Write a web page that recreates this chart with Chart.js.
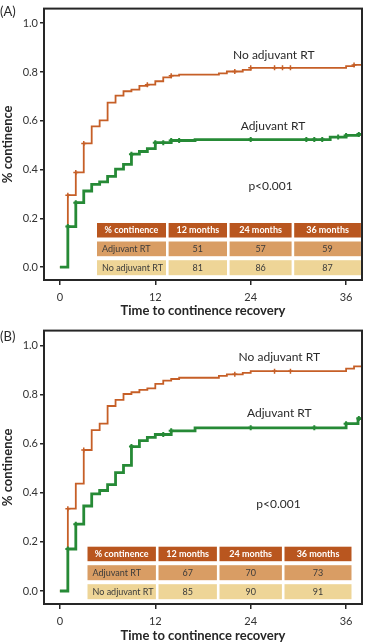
<!DOCTYPE html>
<html>
<head>
<meta charset="utf-8">
<script src="https://cdn.jsdelivr.net/npm/chart.js@4.4.1/dist/chart.umd.min.js"></script>
<style>
  html, body { margin: 0; padding: 0; background: #fff; }
  .panel { position: relative; width: 368px; height: 322px; }
</style>
</head>
<body>
<div class="panel"><canvas id="chartA"></canvas></div>
<div class="panel"><canvas id="chartB"></canvas></div>
<script>
var xTicks = [0, 12, 24, 36];
var yTicks = [0, 0.2, 0.4, 0.6, 0.8, 1.0];

var tableHead = ['% continence', '12 months', '24 months', '36 months'];
var tableRowNames = ['Adjuvant RT', 'No adjuvant RT'];

// panel A - step curves (months, proportion continent)
var monthsNoRtA = [0, 1, 2, 3, 4, 5, 6, 7, 8, 9, 10, 11, 12, 13, 14, 15, 20, 21, 23, 24, 36, 37, 38];
var contNoRtA   = [0, .295, .388, .507, .577, .602, .674, .703, .721, .728, .743, .748, .762, .778, .785, .789, .794, .802, .809, .817, .824, .829, .829];
var censMonthsNoRtA = [1, 2, 3, 11, 14, 22, 24, 27, 28, 29, 37];
var censContNoRtA   = [.295, .388, .507, .748, .785, .802, .817, .817, .817, .817, .829];

var monthsRtA = [0, 1, 2, 3, 4, 5, 6, 7, 8, 9, 10, 11, 12, 14, 17, 34, 36, 37.5, 38];
var contRtA   = [0, .166, .264, .312, .339, .349, .372, .402, .421, .463, .474, .486, .510, .519, .523, .533, .540, .544, .544];
var censMonthsRtA = [1, 2, 9, 12, 13, 14, 15, 24, 31, 32, 33, 35, 36, 37.6];
var censContRtA   = [.166, .264, .463, .510, .510, .519, .519, .523, .523, .523, .523, .533, .540, .544];

var tableRtA   = ['51', '57', '59'];
var tableNoRtA = ['81', '86', '87'];

// panel B
var monthsNoRtB = [0, 1, 2, 3, 4, 5, 6, 7, 8, 9, 10, 11, 12, 13, 14, 15, 20, 21, 23, 24, 36, 37, 38];
var contNoRtB   = [0, .335, .437, .574, .655, .681, .753, .778, .802, .809, .819, .825, .843, .856, .863, .868, .876, .882, .888, .895, .905, .914, .914];
var censMonthsNoRtB = [1, 3, 22, 27, 29];
var censContNoRtB   = [.335, .574, .882, .895, .895];

var monthsRtB = [0, 1, 2, 3, 4, 5, 6, 7, 8, 9, 10, 11, 12, 14, 17, 36, 37.5, 38];
var contRtB   = [0, .171, .272, .346, .395, .409, .433, .482, .511, .588, .612, .625, .637, .652, .664, .681, .702, .702];
var censMonthsRtB = [1, 2, 9, 13, 14, 24, 32, 36, 37.6];
var censContRtB   = [.171, .272, .588, .637, .652, .664, .664, .681, .702];

var tableRtB   = ['67', '70', '73'];
var tableNoRtB = ['85', '90', '91'];

var ORANGE = '#c65f27';
var GREEN = '#268a36';
var FONT = 'Lato, "Open Sans", sans-serif';

function pts(xs, ys) {
  return xs.map(function (x, i) { return { x: x, y: ys[i] }; });
}

var decor = {
  id: 'decor',
  beforeDatasetsDraw: function (chart) {
    var c = chart.options.plugins.decor;
    var ctx = chart.ctx;
    var t = c.table;
    var fills = ['#b9561f', '#d99d64', '#eed597'];
    var rows = [tableHead, [tableRowNames[0]].concat(c.rt), [tableRowNames[1]].concat(c.noRt)];
    ctx.save();
    var y = t.top;
    for (var r = 0; r < 3; r++) {
      var x = t.left;
      for (var k = 0; k < 4; k++) {
        ctx.fillStyle = fills[r];
        ctx.fillRect(x, y, t.cols[k], t.rows[r]);
        ctx.fillStyle = r === 0 ? '#ffffff' : '#3a3a3a';
        ctx.font = (r === 0 ? 'bold ' : '') + '9px ' + FONT;
        ctx.textBaseline = 'middle';
        if (r > 0 && k === 0) {
          ctx.textAlign = 'left';
          ctx.fillText(rows[r][k], x + 5, y + t.rows[r] / 2);
        } else {
          ctx.textAlign = 'center';
          ctx.fillText(rows[r][k], x + t.cols[k] / 2, y + t.rows[r] / 2);
        }
        x += t.cols[k] + t.gap;
      }
      y += t.rows[r] + t.vgap;
    }
    // curve labels and p value, placed in data units
    var sx = chart.scales.x, sy = chart.scales.y;
    ctx.fillStyle = '#2a2a2a';
    ctx.font = '12px ' + FONT;
    ctx.textAlign = 'center';
    ctx.textBaseline = 'middle';
    c.labels.forEach(function (l) {
      ctx.fillText(l.text, sx.getPixelForValue(l.x), sy.getPixelForValue(l.y));
    });
    ctx.restore();
  },
  afterDraw: function (chart) {
    var c = chart.options.plugins.decor;
    var a = chart.chartArea;
    var ctx = chart.ctx;
    ctx.save();
    ctx.strokeStyle = '#262626';
    ctx.lineWidth = 2;
    ctx.strokeRect(a.left, a.top, a.right - a.left, a.bottom - a.top);
    ctx.fillStyle = '#2a2a2a';
    ctx.font = '13px ' + FONT;
    ctx.textAlign = 'left';
    ctx.textBaseline = 'middle';
    ctx.fillText(c.letter, 0, c.letterY);
    ctx.restore();
  }
};

function makeChart(id, d) {
  return new Chart(document.getElementById(id), {
    type: 'line',
    data: {
      datasets: [
        { data: pts(d.censRtX, d.censRtY), showLine: false, pointStyle: 'cross', pointRadius: 2.5, borderColor: GREEN, borderWidth: 2 },
        { data: pts(d.censNoX, d.censNoY), showLine: false, pointStyle: 'cross', pointRadius: 2.5, borderColor: ORANGE, borderWidth: 1.5 },
        { data: pts(d.rtX, d.rtY), stepped: true, borderColor: GREEN, borderWidth: 2.8, pointRadius: 0, fill: false },
        { data: pts(d.noX, d.noY), stepped: true, borderColor: ORANGE, borderWidth: 1.8, pointRadius: 0, fill: false }
      ]
    },
    options: {
      responsive: true,
      maintainAspectRatio: false,
      animation: false,
      layout: { padding: { top: d.padTop, right: 3, left: 0, bottom: 0 } },
      plugins: {
        legend: { display: false },
        tooltip: { enabled: false },
        decor: { table: d.table, rt: d.tableRt, noRt: d.tableNoRt, labels: d.labels, letter: d.letter, letterY: d.letterY }
      },
      scales: {
        x: {
          type: 'linear', min: -2, max: 38,
          afterFit: function (s) { s.height = d.xHeight; },
          afterBuildTicks: function (s) { s.ticks = xTicks.map(function (v) { return { value: v }; }); },
          grid: { drawOnChartArea: false, drawTicks: true, tickLength: 5, color: '#262626', lineWidth: 1.5 },
          border: { display: false },
          ticks: { color: '#333', font: { family: FONT, size: 11 }, padding: 6, maxRotation: 0 },
          title: { display: true, text: 'Time to continence recovery', color: '#262626', font: { family: FONT, size: 13, weight: 'bold' }, padding: { top: 0, bottom: d.titlePad } }
        },
        y: {
          type: 'linear', min: -0.053, max: 1.06,
          afterFit: function (s) { s.width = 44; },
          afterBuildTicks: function (s) { s.ticks = yTicks.map(function (v) { return { value: v }; }); },
          grid: { drawOnChartArea: false, drawTicks: true, tickLength: 4, color: '#262626', lineWidth: 1.5 },
          border: { display: false },
          ticks: { color: '#333', font: { family: FONT, size: 11 }, padding: 2, callback: function (v) { return v.toFixed(1); } },
          title: { display: true, text: '% continence', color: '#262626', font: { family: FONT, size: 13, weight: 'bold' }, padding: 0 }
        }
      }
    },
    plugins: [decor]
  });
}

makeChart('chartA', {
  noX: monthsNoRtA, noY: contNoRtA, censNoX: censMonthsNoRtA, censNoY: censContNoRtA,
  rtX: monthsRtA, rtY: contRtA, censRtX: censMonthsRtA, censRtY: censContRtA,
  tableRt: tableRtA, tableNoRt: tableNoRtA,
  table: { left: 97, top: 223, cols: [69, 58.4, 62, 66.7], rows: [14.5, 14.7, 15], gap: 2.6, vgap: 4 },
  labels: [
    { text: 'No adjuvant RT', x: 26.9, y: 0.871 },
    { text: 'Adjuvant RT', x: 26.8, y: 0.579 },
    { text: 'p<0.001', x: 26.5, y: 0.332 }
  ],
  letter: '(A)', letterY: 12,
  padTop: 4, xHeight: 42, titlePad: 3.5
});

makeChart('chartB', {
  noX: monthsNoRtB, noY: contNoRtB, censNoX: censMonthsNoRtB, censNoY: censContNoRtB,
  rtX: monthsRtB, rtY: contRtB, censRtX: censMonthsRtB, censRtY: censContRtB,
  tableRt: tableRtB, tableNoRt: tableNoRtB,
  table: { left: 87.5, top: 224.7, cols: [68.4, 58.4, 62.4, 67], rows: [14.5, 15, 15], gap: 2.6, vgap: 4 },
  labels: [
    { text: 'No adjuvant RT', x: 27.6, y: 0.953 },
    { text: 'Adjuvant RT', x: 27.6, y: 0.725 },
    { text: 'p<0.001', x: 27.5, y: 0.352 }
  ],
  letter: '(B)', letterY: 14.7,
  padTop: 6.3, xHeight: 40, titlePad: 0.5
});
</script>
</body>
</html>
